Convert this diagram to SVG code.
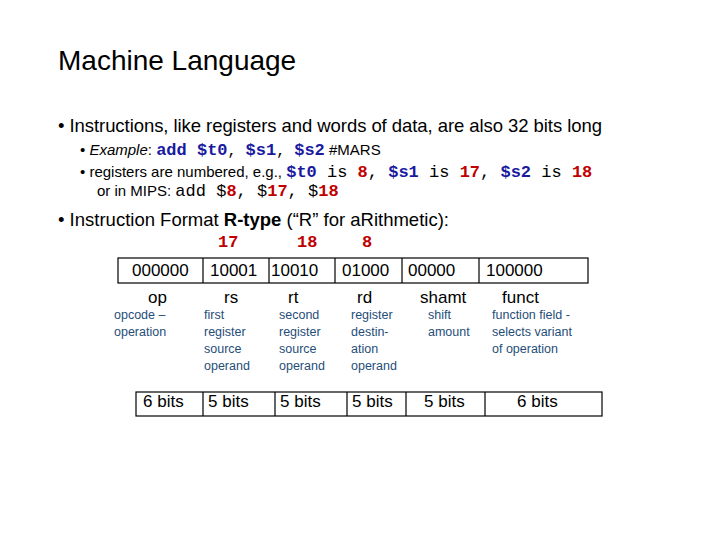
<svg xmlns="http://www.w3.org/2000/svg" width="720" height="540" viewBox="0 0 720 540">
<style>
.t{font-family:"Liberation Sans",Arial,sans-serif;fill:#000}
.m{font-family:"Liberation Mono","Courier New",monospace}
.b{fill:#1a1aa0;font-weight:bold}
.r{fill:#c00000;font-weight:bold}
.box{fill:none;stroke:#000;stroke-width:1.2}
.d{font-family:"Liberation Sans",Arial,sans-serif;font-size:12.5px;fill:#1f4e79}
.f{font-family:"Liberation Sans",Arial,sans-serif;font-size:17px;fill:#000}
</style>
<rect width="720" height="540" fill="#fff"/>
<text class="t" x="58" y="70" font-size="28" font-weight="300">Machine Language</text>
<text class="t" x="58" y="132" font-size="18.5" textLength="544">• Instructions, like registers and words of data, are also 32 bits long</text>
<text class="t" x="80" y="155" font-size="15">• <tspan font-style="italic">Example</tspan>:  <tspan class="m b" font-size="17">add $t0</tspan><tspan class="m">, </tspan><tspan class="m b" font-size="17">$s1</tspan><tspan class="m">, </tspan><tspan class="m b" font-size="17">$s2</tspan> #MARS</text>
<text class="t" x="80" y="177" font-size="15">• registers are numbered, e.g., <tspan class="m b" font-size="17">$t0</tspan><tspan class="m" font-size="17"> is </tspan><tspan class="m r" font-size="17">8</tspan><tspan class="m" font-size="17">, </tspan><tspan class="m b" font-size="17">$s1</tspan><tspan class="m" font-size="17"> is </tspan><tspan class="m r" font-size="17">17</tspan><tspan class="m" font-size="17">, </tspan><tspan class="m b" font-size="17">$s2</tspan><tspan class="m" font-size="17"> is </tspan><tspan class="m r" font-size="17">18</tspan></text>
<text class="t" x="97" y="196" font-size="15">or in MIPS: <tspan class="m" font-size="17">add $<tspan class="r">8</tspan>, $<tspan class="r">17</tspan>, $<tspan class="r">18</tspan></tspan></text>
<text class="t" x="58" y="226" font-size="18.5">• Instruction Format <tspan font-weight="bold">R-type</tspan> (“R” for aRithmetic):</text>
<g class="m r" font-size="17"><text x="218" y="247">17</text><text x="297" y="247">18</text><text x="362" y="247">8</text></g>
<g id="fields">
<rect class="box" x="118" y="258" width="470" height="25"/>
<path class="box" d="M203 258V283M269 258V283M335 258V283M402 258V283M479 258V283"/>
<g class="f"><text x="132" y="276">000000</text><text x="210" y="276">10001</text><text x="271" y="276">10010</text><text x="342" y="276">01000</text><text x="408" y="276">00000</text><text x="486" y="276">100000</text></g>
</g>
<g id="names" class="f" font-size="16"><text x="148" y="303">op</text><text x="224" y="303">rs</text><text x="288" y="303">rt</text><text x="357" y="303">rd</text><text x="420" y="303">shamt</text><text x="502" y="303">funct</text></g>
<g id="desc" class="d">
<text x="114" y="319">opcode –</text><text x="114" y="336">operation</text>
<text x="204" y="319">first</text><text x="204" y="336">register</text><text x="204" y="353">source</text><text x="204" y="370">operand</text>
<text x="279" y="319">second</text><text x="279" y="336">register</text><text x="279" y="353">source</text><text x="279" y="370">operand</text>
<text x="351" y="319">register</text><text x="351" y="336">destin-</text><text x="351" y="353">ation</text><text x="351" y="370">operand</text>
<text x="428" y="319">shift</text><text x="428" y="336">amount</text>
<text x="492" y="319">function field -</text><text x="492" y="336">selects variant</text><text x="492" y="353">of operation</text>
</g>
<g id="bits">
<rect class="box" x="136" y="392" width="466" height="24"/>
<path class="box" d="M203 392V416M275 392V416M347 392V416M406 392V416M485 392V416"/>
<g class="f" font-size="16"><text x="143" y="407">6 bits</text><text x="208" y="407">5 bits</text><text x="280" y="407">5 bits</text><text x="352" y="407">5 bits</text><text x="424" y="407">5 bits</text><text x="517" y="407">6 bits</text></g>
</g>
</svg>
